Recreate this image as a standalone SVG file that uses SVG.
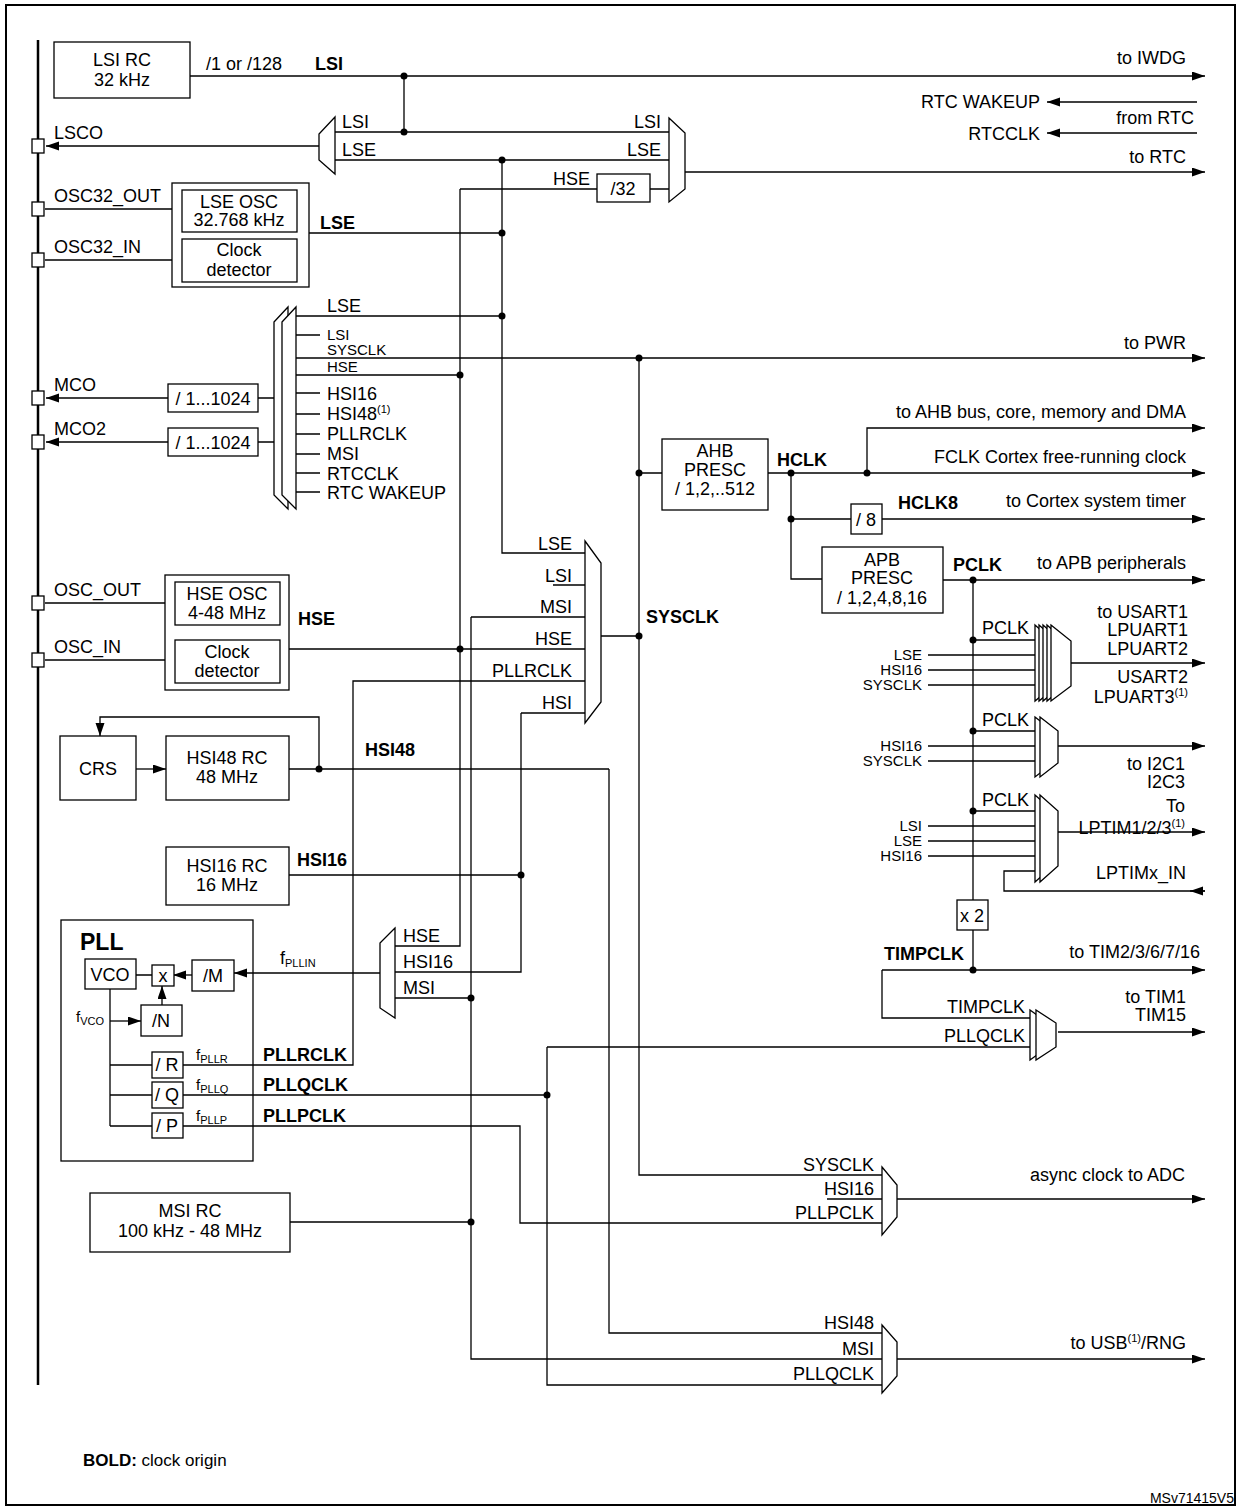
<svg xmlns="http://www.w3.org/2000/svg" width="1242" height="1510" viewBox="0 0 1242 1510">
<defs>
<marker id="a" markerUnits="userSpaceOnUse" markerWidth="14" markerHeight="10" refX="13" refY="4.5" orient="auto"><path d="M0,0 L13,4.5 L0,9 z" fill="#000"/></marker>
</defs>
<style>
text{font-family:"Liberation Sans",Arial,sans-serif;font-size:18px;fill:#000}
.b{font-weight:bold}
.e{text-anchor:end}
.m{text-anchor:middle}
.s{font-size:11px}
.t{font-size:15px}
.box{fill:#fff;stroke:#000;stroke-width:1.3}
.frame{fill:none;stroke:#000;stroke-width:1.3}
.mux{fill:#fff;stroke:#000;stroke-width:1.3}
.w{fill:none;stroke:#000;stroke-width:1.3}
.arr{marker-end:url(#a)}
circle{fill:#000}
</style>
<rect x="0" y="0" width="1242" height="1510" fill="#fff"/>
<rect x="6" y="5" width="1229" height="1500" fill="none" stroke="#000" stroke-width="2"/>
<line x1="38" y1="40" x2="38" y2="1385" stroke="#000" stroke-width="2.5"/>

<g id="wires">
<path class="w arr" d="M190,76 H1205"/>
<path class="w" d="M404,76 V132 M335,132 H669 M335,160 H669"/>
<path class="w arr" d="M319,146 H46"/>
<path class="w arr" d="M685,172 H1205"/>
<path class="w arr" d="M1197,102 H1047"/>
<path class="w arr" d="M1197,133 H1047"/>
<path class="w" d="M460,189 H597 M650,189 H669 M460,189 V946 H395"/>
<path class="w" d="M309,233 H502 M502,160 V553 H585 M296,316 H502"/>
<path class="w" d="M45,209 H172 M45,260 H172 M45,603 H165 M45,660 H165"/>
<path class="w" d="M296,335 H320 M296,393 H320 M296,414 H320 M296,434 H320 M296,454 H320 M296,473 H320 M296,492 H320 M296,375 H460"/>
<path class="w arr" d="M296,358 H1205"/>
<path class="w" d="M274,398 H258 M274,442 H258"/>
<path class="w arr" d="M168,398 H46"/>
<path class="w arr" d="M168,442 H46"/>
<path class="w" d="M639,358 V1175 H882 M601,636 H639 M639,473 H662"/>
<path class="w arr" d="M768,473 H1205"/>
<path class="w arr" d="M867,473 V428 H1205"/>
<path class="w" d="M791,473 V579 H822 M791,519 H851"/>
<path class="w arr" d="M882,519 H1205"/>
<path class="w arr" d="M943,580 H1205"/>
<path class="w" d="M973,580 V900 M973,930 V970 M973,640 H1035 M973,731 H1035 M973,811 H1035"/>
<path class="w" d="M928,655 H1035 M928,670 H1035 M928,685 H1035"/>
<path class="w arr" d="M1071,663 H1205"/>
<path class="w" d="M928,746 H1035 M928,761 H1035"/>
<path class="w arr" d="M1058,746 H1205"/>
<path class="w" d="M928,826 H1035 M928,841 H1035 M928,856 H1035"/>
<path class="w arr" d="M1058,832 H1205"/>
<path class="w" d="M1205,891 H1004 V871 H1035"/>
<path class="w arr" d="M1205,891 H1190"/>
<path class="w arr" d="M882,970 H1205"/>
<path class="w" d="M882,970 V1018 H1030 M183,1095 H547 M547,1047 H1030 M547,1047 V1385 H882"/>
<path class="w arr" d="M1058,1032 H1205"/>
<path class="w" d="M183,1126 H520 V1223 H882 M827,1199 H882"/>
<path class="w arr" d="M897,1199 H1205"/>
<path class="w" d="M609,769 V1333 H882 M471,617 V1359 H882 M471,617 H585"/>
<path class="w arr" d="M897,1359 H1205"/>
<path class="w" d="M289,649 H585 M183,1065 H353 V681 H585 M289,875 H521 M521,713 V972 H395 M521,713 H585 M553,585 H585"/>
<path class="w" d="M289,769 H609"/>
<path class="w arr" d="M319,769 V717 H100 V736"/>
<path class="w arr" d="M136,769 H166"/>
<path class="w arr" d="M380,973 H234"/>
<path class="w" d="M290,1222 H471 M471,998 H395"/>
</g>

<g id="dots">
<circle cx="404" cy="76" r="3.5"/><circle cx="404" cy="132" r="3.5"/><circle cx="502" cy="160" r="3.5"/>
<circle cx="502" cy="233" r="3.5"/><circle cx="502" cy="316" r="3.5"/><circle cx="460" cy="375" r="3.5"/>
<circle cx="639" cy="358" r="3.5"/><circle cx="639" cy="473" r="3.5"/><circle cx="639" cy="636" r="3.5"/>
<circle cx="791" cy="473" r="3.5"/><circle cx="867" cy="473" r="3.5"/><circle cx="791" cy="519" r="3.5"/>
<circle cx="973" cy="580" r="3.5"/><circle cx="973" cy="640" r="3.5"/><circle cx="973" cy="731" r="3.5"/>
<circle cx="973" cy="811" r="3.5"/><circle cx="973" cy="970" r="3.5"/><circle cx="460" cy="649" r="3.5"/>
<circle cx="319" cy="769" r="3.5"/><circle cx="521" cy="875" r="3.5"/><circle cx="471" cy="998" r="3.5"/>
<circle cx="471" cy="1222" r="3.5"/><circle cx="547" cy="1095" r="3.5"/>
</g>

<g id="pins">
<rect class="box" x="32" y="139" width="12" height="14"/><text x="54" y="139">LSCO</text>
<rect class="box" x="32" y="202" width="12" height="14"/><text x="54" y="202">OSC32_OUT</text>
<rect class="box" x="32" y="253" width="12" height="14"/><text x="54" y="253">OSC32_IN</text>
<rect class="box" x="32" y="391" width="12" height="14"/><text x="54" y="391">MCO</text>
<rect class="box" x="32" y="435" width="12" height="14"/><text x="54" y="435">MCO2</text>
<rect class="box" x="32" y="596" width="12" height="14"/><text x="54" y="596">OSC_OUT</text>
<rect class="box" x="32" y="653" width="12" height="14"/><text x="54" y="653">OSC_IN</text>
</g>

<g id="lsirc"><rect class="box" x="54" y="42" width="136" height="56"/><text class="m" x="122" y="66">LSI RC</text><text class="m" x="122" y="86">32 kHz</text></g>
<text x="206" y="70">/1 or /128</text><text class="b" x="315" y="70">LSI</text>
<text class="e" x="1186" y="64">to IWDG</text>
<text class="e" x="1040" y="108">RTC WAKEUP</text>
<text class="e" x="1194" y="124">from RTC</text>
<text class="e" x="1040" y="140">RTCCLK</text>
<text class="e" x="1186" y="163">to RTC</text>

<g id="lscomux"><polygon class="mux" points="335,117 319,134 319,160 335,174"/><text x="342" y="128">LSI</text><text x="342" y="156">LSE</text></g>
<g id="rtcmux"><polygon class="mux" points="669,118 685,133 685,189 669,202"/><text class="e" x="661" y="128">LSI</text><text class="e" x="661" y="156">LSE</text><text class="e" x="590" y="185">HSE</text></g>
<g id="div32"><rect class="box" x="597" y="174" width="53" height="28"/><text class="m" x="623" y="195">/32</text></g>

<g id="lseosc"><rect class="frame" x="172" y="183" width="137" height="104"/>
<rect class="box" x="182" y="190" width="115" height="42"/><text class="m" x="239" y="208">LSE OSC</text><text class="m" x="239" y="226">32.768 kHz</text>
<rect class="box" x="182" y="239" width="115" height="43"/><text class="m" x="239" y="256">Clock</text><text class="m" x="239" y="276">detector</text></g>
<text class="b" x="320" y="229">LSE</text>

<g id="mcomux"><polygon class="mux" points="274,322 288,307 288,509 274,495"/><polygon class="mux" points="282,322 296,307 296,509 282,495"/>
<text x="327" y="312">LSE</text><text x="327" y="340" class="t">LSI</text><text x="327" y="355" class="t">SYSCLK</text><text x="327" y="372" class="t">HSE</text>
<text x="327" y="400">HSI16</text><text x="327" y="420">HSI48<tspan class="s" dy="-7">(1)</tspan></text><text x="327" y="440">PLLRCLK</text>
<text x="327" y="460">MSI</text><text x="327" y="480">RTCCLK</text><text x="327" y="499">RTC WAKEUP</text></g>
<g id="mcodiv1"><rect class="box" x="168" y="384" width="90" height="28"/><text class="m" x="213" y="405">/ 1...1024</text></g>
<g id="mcodiv2"><rect class="box" x="168" y="428" width="90" height="28"/><text class="m" x="213" y="449">/ 1...1024</text></g>
<text class="e" x="1186" y="349">to PWR</text>

<g id="ahb"><rect class="box" x="662" y="439" width="106" height="71"/><text class="m" x="715" y="457">AHB</text><text class="m" x="715" y="476">PRESC</text><text class="m" x="715" y="495">/ 1,2,..512</text></g>
<text class="b" x="777" y="466">HCLK</text>
<text class="e" x="1186" y="418">to AHB bus, core, memory and DMA</text>
<text class="e" x="1186" y="463">FCLK Cortex free-running clock</text>
<g id="div8"><rect class="box" x="851" y="504" width="31" height="30"/><text class="m" x="866" y="526">/ 8</text></g>
<text class="b" x="898" y="509">HCLK8</text><text class="e" x="1186" y="507">to Cortex system timer</text>
<g id="apb"><rect class="box" x="822" y="547" width="121" height="66"/><text class="m" x="882" y="566">APB</text><text class="m" x="882" y="584">PRESC</text><text class="m" x="882" y="604">/ 1,2,4,8,16</text></g>
<text class="b" x="953" y="571">PCLK</text><text class="e" x="1186" y="569">to APB peripherals</text>

<g id="usartmux">
<polygon class="mux" points="1035,625 1053,641 1053,686 1035,701"/><polygon class="mux" points="1039,625 1057,641 1057,686 1039,701"/>
<polygon class="mux" points="1043,625 1061,641 1061,686 1043,701"/><polygon class="mux" points="1047,625 1065,641 1065,686 1047,701"/>
<polygon class="mux" points="1051,625 1071,641 1071,686 1051,701"/>
<text x="982" y="634">PCLK</text><text class="e t" x="922" y="660">LSE</text><text class="e t" x="922" y="675">HSI16</text><text class="e t" x="922" y="690">SYSCLK</text>
<text class="e" x="1188" y="618">to USART1</text><text class="e" x="1188" y="636">LPUART1</text><text class="e" x="1188" y="655">LPUART2</text>
<text class="e" x="1188" y="683">USART2</text><text class="e" x="1188" y="703">LPUART3<tspan class="s" dy="-7">(1)</tspan></text></g>

<g id="i2cmux">
<polygon class="mux" points="1035,717 1053,731 1053,763 1035,777"/><polygon class="mux" points="1040,717 1058,731 1058,763 1040,777"/>
<text x="982" y="726">PCLK</text><text class="e t" x="922" y="751">HSI16</text><text class="e t" x="922" y="766">SYSCLK</text>
<text class="e" x="1185" y="770">to I2C1</text><text class="e" x="1185" y="788">I2C3</text></g>

<g id="lptimmux">
<polygon class="mux" points="1035,795 1053,811 1053,866 1035,882"/><polygon class="mux" points="1040,795 1058,811 1058,866 1040,882"/>
<text x="982" y="806">PCLK</text><text class="e t" x="922" y="831">LSI</text><text class="e t" x="922" y="846">LSE</text><text class="e t" x="922" y="861">HSI16</text>
<text class="e" x="1185" y="812">To</text><text class="e" x="1185" y="834">LPTIM1/2/3<tspan class="s" dy="-7">(1)</tspan></text>
<text class="e" x="1186" y="879">LPTIMx_IN</text></g>

<g id="x2"><rect class="box" x="957" y="900" width="31" height="30"/><text class="m" x="972" y="922">x 2</text></g>
<text class="b" x="884" y="960">TIMPCLK</text><text class="e" x="1200" y="958">to TIM2/3/6/7/16</text>

<g id="timmux">
<polygon class="mux" points="1030,1010 1048,1023 1048,1047 1030,1060"/><polygon class="mux" points="1036,1010 1056,1023 1056,1047 1036,1060"/>
<text class="e" x="1025" y="1013">TIMPCLK</text><text class="e" x="1025" y="1042">PLLQCLK</text>
<text class="e" x="1186" y="1003">to TIM1</text><text class="e" x="1186" y="1021">TIM15</text></g>

<g id="sysmux"><polygon class="mux" points="585,541 601,563 601,702 585,723"/>
<text class="e" x="572" y="550">LSE</text><text class="e" x="572" y="582">LSI</text><text class="e" x="572" y="613">MSI</text>
<text class="e" x="572" y="645">HSE</text><text class="e" x="572" y="677">PLLRCLK</text><text class="e" x="572" y="709">HSI</text></g>
<text class="b" x="646" y="623">SYSCLK</text>

<g id="hseosc"><rect class="frame" x="165" y="575" width="124" height="115"/>
<rect class="box" x="175" y="582" width="105" height="43"/><text class="m" x="227" y="600">HSE OSC</text><text class="m" x="227" y="619">4-48 MHz</text>
<rect class="box" x="175" y="640" width="105" height="43"/><text class="m" x="227" y="658">Clock</text><text class="m" x="227" y="677">detector</text></g>
<text class="b" x="298" y="625">HSE</text>

<g id="crs"><rect class="box" x="60" y="736" width="76" height="64"/><text class="m" x="98" y="775">CRS</text></g>
<g id="hsi48"><rect class="box" x="166" y="736" width="123" height="64"/><text class="m" x="227" y="764">HSI48 RC</text><text class="m" x="227" y="783">48 MHz</text></g>
<text class="b" x="365" y="756">HSI48</text>
<g id="hsi16"><rect class="box" x="166" y="847" width="123" height="58"/><text class="m" x="227" y="872">HSI16 RC</text><text class="m" x="227" y="891">16 MHz</text></g>
<text class="b" x="297" y="866">HSI16</text>

<g id="pll"><rect class="frame" x="61" y="920" width="192" height="241"/>
<text class="b" x="80" y="950" style="font-size:23px">PLL</text>
<path class="w arr" d="M192,975 H173"/>
<path class="w arr" d="M162,1005 V986"/>
<path class="w" d="M136,975 H152 M110,989 V1126 M110,1065 H152 M110,1095 H152 M110,1126 H152"/>
<path class="w arr" d="M110,1021 H141"/>
<rect class="box" x="85" y="959" width="51" height="30"/><text class="m" x="110" y="981">VCO</text>
<rect class="box" x="152" y="965" width="22" height="21"/><text class="m" x="163" y="982">x</text>
<rect class="box" x="192" y="960" width="42" height="31"/><text class="m" x="213" y="982">/M</text>
<rect class="box" x="141" y="1005" width="41" height="31"/><text class="m" x="161" y="1027">/N</text>
<rect class="box" x="152" y="1052" width="31" height="26"/><text class="m" x="167" y="1071">/ R</text>
<rect class="box" x="152" y="1082" width="31" height="26"/><text class="m" x="167" y="1101">/ Q</text>
<rect class="box" x="152" y="1113" width="31" height="25"/><text class="m" x="167" y="1132">/ P</text>
<text x="76" y="1022" style="font-size:15px">f<tspan class="s" dy="3">VCO</tspan></text>
<text x="196" y="1060" style="font-size:15px">f<tspan class="s" dy="3">PLLR</tspan></text>
<text x="196" y="1090" style="font-size:15px">f<tspan class="s" dy="3">PLLQ</tspan></text>
<text x="196" y="1121" style="font-size:15px">f<tspan class="s" dy="3">PLLP</tspan></text></g>
<text x="280" y="964">f<tspan class="s" dy="3">PLLIN</tspan></text>
<text class="b" x="263" y="1061">PLLRCLK</text><text class="b" x="263" y="1091">PLLQCLK</text><text class="b" x="263" y="1122">PLLPCLK</text>

<g id="pllmux"><polygon class="mux" points="395,928 380,943 380,1008 395,1018"/>
<text x="403" y="942">HSE</text><text x="403" y="968">HSI16</text><text x="403" y="994">MSI</text></g>

<g id="msi"><rect class="box" x="90" y="1193" width="200" height="59"/><text class="m" x="190" y="1217">MSI RC</text><text class="m" x="190" y="1237">100 kHz - 48 MHz</text></g>

<g id="adcmux"><polygon class="mux" points="882,1167 897,1185 897,1217 882,1235"/>
<text class="e" x="874" y="1171">SYSCLK</text><text class="e" x="874" y="1195">HSI16</text><text class="e" x="874" y="1219">PLLPCLK</text>
<text class="e" x="1185" y="1181">async clock to ADC</text></g>

<g id="usbmux"><polygon class="mux" points="882,1325 897,1342 897,1376 882,1393"/>
<text class="e" x="874" y="1329">HSI48</text><text class="e" x="874" y="1355">MSI</text><text class="e" x="874" y="1380">PLLQCLK</text>
<text class="e" x="1186" y="1349">to USB<tspan class="s" dy="-7">(1)</tspan><tspan dy="7">/RNG</tspan></text></g>

<text x="83" y="1466" style="font-size:17px"><tspan class="b">BOLD:</tspan> clock origin</text>
<text class="e" x="1234" y="1503" style="font-size:14px">MSv71415V5</text>
</svg>
